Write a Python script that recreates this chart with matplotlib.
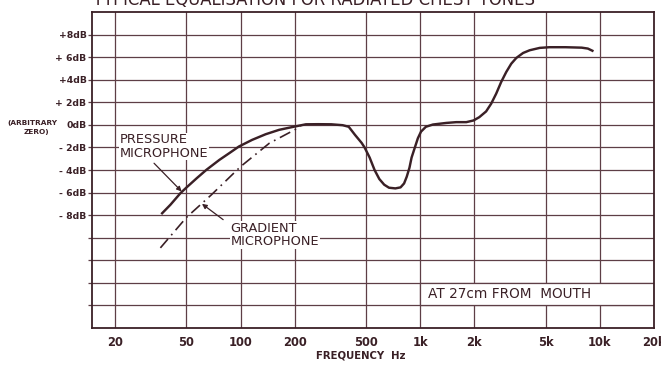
import matplotlib
matplotlib.use("Agg")
import matplotlib.pyplot as plt
from matplotlib.patches import Rectangle

# ---- data ----
pressure_freq = [36.2, 40.7, 46.3, 50, 57.1, 64.6, 76.3, 86.5, 97.9, 116, 138, 164, 200, 231,
                 270, 320, 370, 400, 434, 472, 490, 523, 557, 592, 630, 670, 727, 777, 813,
                 841, 871, 895, 931, 970, 1010, 1075, 1177, 1396, 1587, 1805, 1980, 2131,
                 2326, 2481, 2646, 2822, 3010, 3211, 3426, 3737, 4066, 4624, 5250, 6438,
                 7917, 8567, 9210]
pressure_db = [-7.91, -7.08, -6.05, -5.55, -4.72, -3.98, -3.10, -2.51, -1.92, -1.33, -0.83,
               -0.44, -0.15, 0.05, 0.06, 0.05, -0.03, -0.17, -0.9, -1.6, -2.0, -2.9, -4.0,
               -4.8, -5.3, -5.57, -5.63, -5.54, -5.19, -4.6, -3.8, -2.9, -2.06, -1.19, -0.6,
               -0.17, 0.03, 0.17, 0.24, 0.24, 0.39, 0.68, 1.19, 1.87, 2.76, 3.80, 4.68, 5.42,
               5.93, 6.37, 6.61, 6.82, 6.88, 6.88, 6.84, 6.76, 6.52]

gradient_freq = [35.8, 50, 68.8, 100, 144.5, 200, 217]
gradient_db = [-10.9, -8.2, -6.2, -3.7, -1.63, -0.44, -0.06]

x_ticks = [20, 50, 100, 200, 500, 1000, 2000, 5000, 10000, 20000]
x_tick_labels = ["20", "50", "100", "200", "500", "1k", "2k", "5k", "10k", "20k"]
y_grid = [8, 6, 4, 2, 0, -2, -4, -6, -8, -10, -12, -14, -16]
y_tick_labels = ["+8dB", "+ 6dB", "+4dB", "+ 2dB", "0dB", "- 2dB", "- 4dB", "- 6dB", "- 8dB", "", "", "", ""]

title = "TYPICAL EQUALISATION FOR RADIATED CHEST TONES"

ink = "#3a2026"
gridc = "#5e3e46"

fig = plt.figure(figsize=(6.61, 3.65), dpi=100)
ax = fig.add_axes([92/661, 1-328/365, (654-92)/661, (328-12)/365])
ax.set_xscale("log")
ax.set_xlim(14.9, 20000)
ax.set_ylim(-18, 10)

# grid
for f in x_ticks[:-1]:
    ax.axvline(f, color=gridc, lw=0.9, zorder=1)
for d in y_grid:
    ax.axhline(d, color=gridc, lw=0.9, zorder=1)

ax.set_xticks(x_ticks)
ax.set_xticklabels(x_tick_labels, fontweight="bold", fontsize=8.3, color=ink)
ax.xaxis.set_minor_locator(matplotlib.ticker.NullLocator())
ax.tick_params(axis="x", length=0, pad=6)
ax.set_yticks(y_grid)
ax.set_yticklabels(y_tick_labels, fontweight="bold", fontsize=6.7, color=ink)
ax.tick_params(axis="y", length=3, width=0.9, color=gridc, pad=1)
for s in ax.spines.values():
    s.set_color(ink)
    s.set_linewidth(1.3)

# curves
ax.plot(pressure_freq, pressure_db, color=ink, lw=1.75, zorder=4,
        solid_capstyle="butt", solid_joinstyle="round")
ax.plot(gradient_freq, gradient_db, color=ink, lw=1.2, zorder=4,
        linestyle=(0, (7, 3, 1, 3)))

# box
ax.add_patch(Rectangle((1000, -16), 20000 - 1000, 2, facecolor="white",
                       edgecolor=gridc, lw=0.9, zorder=2))
ax.text(1104, -15.0, "AT 27cm FROM  MOUTH", fontsize=9.8, color=ink, va="center",
        ha="left", zorder=3)

# annotations
ax.text(21.3, -0.75, "PRESSURE\nMICROPHONE", fontsize=9.3, color=ink, va="top", ha="left",
        linespacing=1.05, zorder=3, bbox=dict(facecolor="white", edgecolor="none", pad=0.5))
ax.annotate("", xy=(47, -5.9), xytext=(33, -3.4),
            arrowprops=dict(arrowstyle="-|>", color=ink, lw=0.9, mutation_scale=7,
                            shrinkA=0, shrinkB=0), zorder=5)
ax.text(88, -8.6, "GRADIENT\nMICROPHONE", fontsize=9.3, color=ink, va="top", ha="left",
        linespacing=1.05, zorder=3, bbox=dict(facecolor="white", edgecolor="none", pad=0.5))
ax.annotate("", xy=(61, -7.0), xytext=(80, -8.4),
            arrowprops=dict(arrowstyle="-|>", color=ink, lw=0.9, mutation_scale=7,
                            shrinkA=0, shrinkB=0), zorder=5)

# left side labels
fig.text(7/661, 1-123/365, "(ARBITRARY", fontweight="bold", fontsize=5.3,
         color=ink, va="center", ha="left")
fig.text(36/661, 1-132/365, "ZERO)", fontweight="bold", fontsize=5.3,
         color=ink, va="center", ha="center")

# title and axis label
fig.text(93/661, 1-5/365, title, fontsize=11.9, color=ink, va="baseline", ha="left")
fig.text(361/661, 1-356/365, "FREQUENCY  Hz", fontweight="bold",
         fontsize=7.3, color=ink, va="center", ha="center")

fig.savefig("out.png", dpi=100, facecolor="white")
